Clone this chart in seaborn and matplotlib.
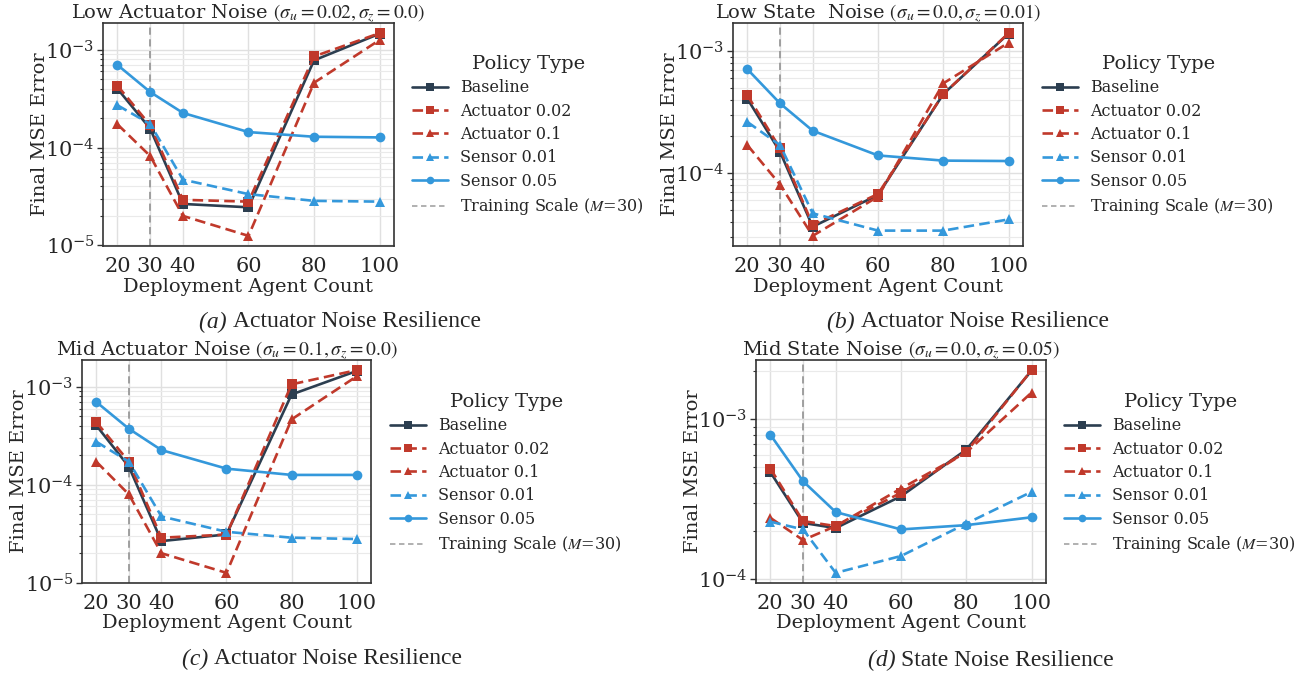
import numpy as np
import pandas as pd
import seaborn as sns
import matplotlib
matplotlib.use("Agg")
import matplotlib.pyplot as plt
from matplotlib.lines import Line2D

# ---------------- data ----------------
agent_counts = [20, 30, 40, 60, 80, 100]
policies = ["Baseline", "Actuator 0.02", "Actuator 0.1", "Sensor 0.01", "Sensor 0.05"]

# panel (a) Low actuator noise
a_baseline = [4.0e-4, 1.56e-4, 2.65e-5, 2.45e-5, 7.8e-4, 1.46e-3]
a_act002 = [4.3e-4, 1.69e-4, 2.92e-5, 2.8e-5, 8.55e-4, 1.48e-3]
a_act01 = [1.73e-4, 8.2e-5, 2.0e-5, 1.25e-5, 4.6e-4, 1.26e-3]
a_sen001 = [2.71e-4, 1.74e-4, 4.7e-5, 3.34e-5, 2.85e-5, 2.8e-5]
a_sen005 = [7.0e-4, 3.7e-4, 2.26e-4, 1.44e-4, 1.29e-4, 1.27e-4]

# panel (b) Low state noise
b_baseline = [4.07e-4, 1.50e-4, 3.66e-5, 6.65e-5, 4.45e-4, 1.39e-3]
b_act002 = [4.35e-4, 1.60e-4, 3.79e-5, 6.78e-5, 4.45e-4, 1.40e-3]
b_act01 = [1.70e-4, 8.1e-5, 3.08e-5, 6.45e-5, 5.44e-4, 1.17e-3]
b_sen001 = [2.63e-4, 1.70e-4, 4.71e-5, 3.4e-5, 3.4e-5, 4.2e-5]
b_sen005 = [7.1e-4, 3.73e-4, 2.23e-4, 1.40e-4, 1.27e-4, 1.26e-4]

# panel (c) Mid actuator noise
c_baseline = [4.03e-4, 1.53e-4, 2.66e-5, 3.11e-5, 8.35e-4, 1.45e-3]
c_act002 = [4.36e-4, 1.72e-4, 2.88e-5, 3.1e-5, 1.06e-3, 1.48e-3]
c_act01 = [1.72e-4, 7.97e-5, 2.0e-5, 1.26e-5, 4.65e-4, 1.28e-3]
c_sen001 = [2.75e-4, 1.72e-4, 4.75e-5, 3.31e-5, 2.88e-5, 2.79e-5]
c_sen005 = [7.0e-4, 3.73e-4, 2.26e-4, 1.46e-4, 1.26e-4, 1.26e-4]

# panel (d) Mid state noise
d_baseline = [4.66e-4, 2.24e-4, 2.08e-4, 3.29e-4, 6.45e-4, 2.02e-3]
d_act002 = [4.91e-4, 2.30e-4, 2.14e-4, 3.46e-4, 6.24e-4, 2.03e-3]
d_act01 = [2.41e-4, 1.75e-4, 2.14e-4, 3.68e-4, 6.2e-4, 1.47e-3]
d_sen001 = [2.28e-4, 2.04e-4, 1.09e-4, 1.39e-4, 2.22e-4, 3.51e-4]
d_sen005 = [8.0e-4, 4.09e-4, 2.62e-4, 2.04e-4, 2.17e-4, 2.43e-4]

titles = [
    r"Low Actuator Noise $(\sigma_u=0.02,\sigma_z=0.0)$",
    r"Low State  Noise $(\sigma_u=0.0,\sigma_z=0.01)$",
    r"Mid Actuator Noise $(\sigma_u=0.1,\sigma_z=0.0)$",
    r"Mid State Noise $(\sigma_u=0.0,\sigma_z=0.05)$",
]
captions = [
    ("(a)", "Actuator Noise Resilience"),
    ("(b)", "Actuator Noise Resilience"),
    ("(c)", "Actuator Noise Resilience"),
    ("(d)", "State Noise Resilience"),
]
training_scale = 30

panels = [
    [a_baseline, a_act002, a_act01, a_sen001, a_sen005],
    [b_baseline, b_act002, b_act01, b_sen001, b_sen005],
    [c_baseline, c_act002, c_act01, c_sen001, c_sen005],
    [d_baseline, d_act002, d_act01, d_sen001, d_sen005],
]

# ---------------- style ----------------
sns.set_theme(style="whitegrid")
plt.rcParams["font.family"] = ["DejaVu Serif"]
plt.rcParams["mathtext.fontset"] = "stix"

palette = {"Baseline": "#2c3e50", "Actuator 0.02": "#c0392b", "Actuator 0.1": "#c0392b",
           "Sensor 0.01": "#3498db", "Sensor 0.05": "#3498db"}
dashes = {"Baseline": "", "Actuator 0.02": (4, 2), "Actuator 0.1": (4, 2),
          "Sensor 0.01": (4, 2), "Sensor 0.05": ""}
markers = {"Baseline": "s", "Actuator 0.02": "s", "Actuator 0.1": "^",
           "Sensor 0.01": "^", "Sensor 0.05": "o"}

fig = plt.figure(figsize=(13.1, 6.74), dpi=100)
W, H = 1310, 674
# axes boxes in pixels: left, top, right, bottom
boxes = [(103, 23, 394, 246), (733, 23, 1023, 246), (82, 360, 371, 583), (756, 360, 1046, 583)]
legend_pos = [(406, 136), (1036, 136), (384, 474), (1058, 474)]
caption_pos = [(340, 322), (968, 322), (322, 659), (991, 660)]
cap_fs = 17

for i, vals in enumerate(panels):
    l, t, r, b = boxes[i]
    ax = fig.add_axes([l / W, 1 - b / H, (r - l) / W, (b - t) / H])
    rows = []
    for p, v in zip(policies, vals):
        for x, y in zip(agent_counts, v):
            rows.append({"agents": x, "mse": y, "Policy Type": p})
    df = pd.DataFrame(rows)
    sns.lineplot(data=df, x="agents", y="mse", hue="Policy Type", style="Policy Type",
                 palette=palette, dashes=dashes, markers=markers, markersize=7,
                 linewidth=1.9, markeredgewidth=0, ax=ax, legend=False, zorder=3)
    ax.set_yscale("log")
    ax.axvline(training_scale, color="#999999", linestyle=(0, (4, 2.5)), linewidth=1.3, zorder=2)
    ax.set_xticks(agent_counts)
    ax.set_xlim(15.6, 104.4)
    ax.tick_params(axis="both", labelsize=15, pad=2)
    ax.tick_params(axis="y", which="major", left=True, length=4, width=1, color="#333333")
    ax.tick_params(axis="y", which="minor", left=True, length=2, width=0.8, color="#333333")
    ax.grid(True, which="major", color="#e0e0e0", linewidth=1.0)
    ax.grid(True, which="minor", axis="y", color="#eaeaea", linewidth=0.8)
    for s in ax.spines.values():
        s.set_color("#333333")
        s.set_linewidth(1.2)
    ax.set_xlabel("Deployment Agent Count", fontsize=14, labelpad=1)
    ax.set_ylabel("Final MSE Error", fontsize=14, labelpad=-3)
    ax.set_title(titles[i], fontsize=14, pad=3)

    handles = []
    for p in policies:
        ls = "-" if dashes[p] == "" else (0, dashes[p])
        handles.append(Line2D([], [], color=palette[p], linestyle=ls, linewidth=1.9,
                              marker=markers[p], markersize=5.5, markeredgewidth=0))
    handles.append(Line2D([], [], color="#aaaaaa", linestyle=(0, (3, 2)), linewidth=1.3))
    labels = policies + [r"Training Scale ($M$=30)"]
    lx, ly = legend_pos[i]
    ax.legend(handles, labels, title="Policy Type", loc="center left",
              bbox_to_anchor=(lx / W, 1 - ly / H), bbox_transform=fig.transFigure,
              frameon=False, fontsize=11.5, title_fontsize=14, borderaxespad=0,
              handlelength=2.2, labelspacing=0.4)

    # caption: italic tag + upright text, centered together
    cx, cy = caption_pos[i]
    tag, rest = captions[i]
    fig.canvas.draw()
    rend = fig.canvas.get_renderer()
    t1 = fig.text(0, 0, tag + " ", fontsize=cap_fs, family="Liberation Serif", style="italic")
    t2 = fig.text(0, 0, rest, fontsize=cap_fs, family="Liberation Serif")
    w1 = t1.get_window_extent(rend).width
    w2 = t2.get_window_extent(rend).width
    x0 = cx - (w1 + w2) / 2
    t1.set_position((x0 / W, 1 - cy / H))
    t1.set_va("center")
    t2.set_position(((x0 + w1) / W, 1 - cy / H))
    t2.set_va("center")

fig.savefig("out.png", dpi=100)
